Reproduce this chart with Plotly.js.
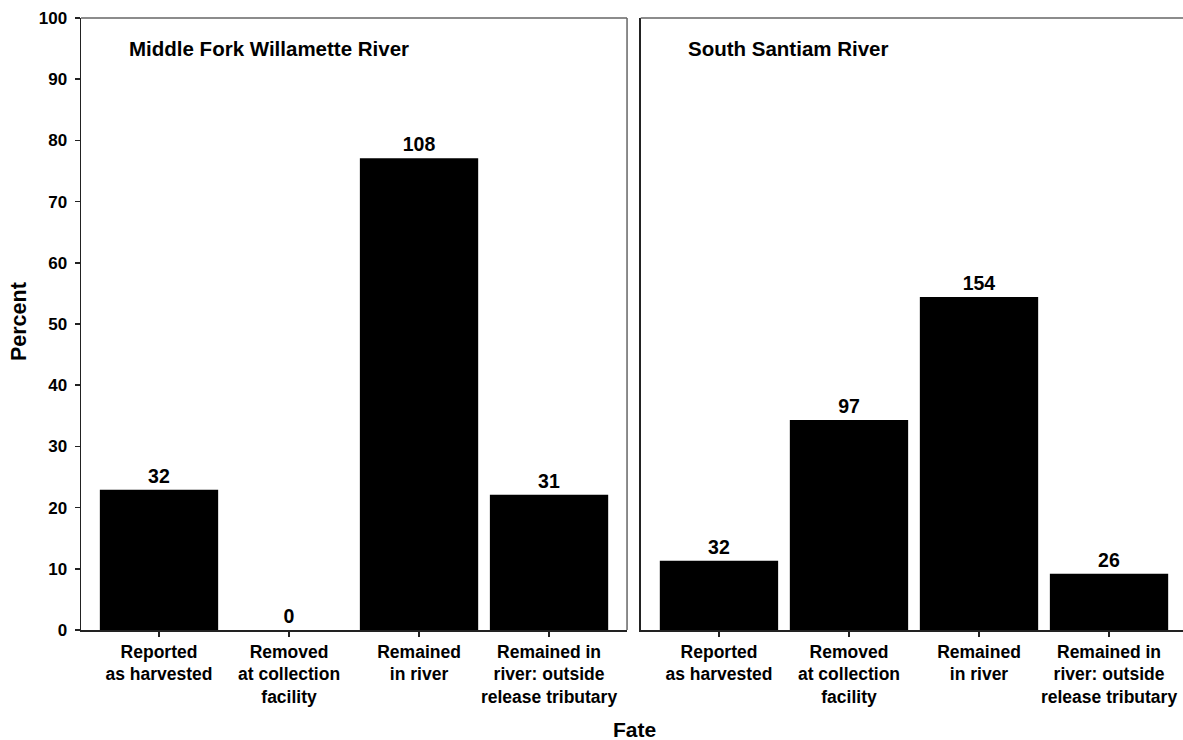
<!DOCTYPE html>
<html>
<head>
<meta charset="utf-8">
<script src="https://cdn.plot.ly/plotly-3.0.1.min.js"></script>
<style>html,body{margin:0;padding:0;background:#fff;}#chart{width:1183px;height:740px;}</style>
</head>
<body>
<div id="chart"></div>
<script>
const categories = [
  "Reported<br>as harvested",
  "Removed<br>at collection<br>facility",
  "Remained<br>in river",
  "Remained in<br>river: outside<br>release tributary"
];
const panelTitles = ["Middle Fork Willamette River", "South Santiam River"];
const mfwPercent = [22.9, 0, 77.1, 22.1];
const mfwCounts = [32, 0, 108, 31];
const ssPercent = [11.3, 34.3, 54.4, 9.2];
const ssCounts = [32, 97, 154, 26];
const yTicks = [0, 10, 20, 30, 40, 50, 60, 70, 80, 90, 100];
const xTitle = "Fate";
const yTitle = "Percent";

const FONT = "Liberation Sans, Arial, Helvetica, sans-serif";
const barCommon = {
  type: "bar",
  marker: {color: "#000", line: {width: 0}},
  width: 0.91,
  textposition: "outside",
  textfont: {family: FONT, size: 19.5, color: "#000", weight: 700},
  cliponaxis: false,
  hoverinfo: "skip",
  showlegend: false
};
const traces = [
  Object.assign({}, barCommon, {x: categories, y: mfwPercent, text: mfwCounts.map(String), xaxis: "x", yaxis: "y"}),
  Object.assign({}, barCommon, {x: categories, y: ssPercent, text: ssCounts.map(String), xaxis: "x2", yaxis: "y2"})
];

const xCommon = {
  type: "category",
  showline: true, linecolor: "#222", linewidth: 1.5,
  ticks: "outside", ticklen: 5, tickwidth: 1.5, tickcolor: "#222",
  tickfont: {family: FONT, size: 17.5, color: "#000", weight: 700},
  showgrid: false, zeroline: false, fixedrange: true
};
const layout = {
  width: 1183, height: 740,
  margin: {l: 81, r: 0, t: 18, b: 110},
  paper_bgcolor: "#fff", plot_bgcolor: "#fff",
  font: {family: FONT, color: "#000"},
  xaxis: Object.assign({}, xCommon, {domain: [0, 0.4955], range: [-0.6, 3.6], anchor: "y"}),
  xaxis2: Object.assign({}, xCommon, {domain: [0.5079, 1], range: [-0.602, 3.569], anchor: "y2"}),
  yaxis: {
    range: [0, 100], tickvals: yTicks, ticktext: yTicks.map(String),
    showline: true, linecolor: "#222", linewidth: 1.5,
    ticks: "outside", ticklen: 5, tickwidth: 1.5, tickcolor: "#222",
    ticklabelstandoff: 4,
    tickfont: {family: FONT, size: 17, color: "#000", weight: 700},
    showgrid: false, zeroline: false, fixedrange: true
  },
  yaxis2: {
    range: [0, 100], anchor: "x2",
    showline: true, linecolor: "#222", linewidth: 1.5,
    ticks: "", showticklabels: false, showgrid: false, zeroline: false, fixedrange: true
  },
  shapes: [
    {type: "line", xref: "x domain", yref: "y domain", x0: 0, x1: 1, y0: 1, y1: 1, line: {color: "#666", width: 1.5}},
    {type: "line", xref: "x domain", yref: "y domain", x0: 1, x1: 1, y0: 0, y1: 1, line: {color: "#666", width: 1.5}},
    {type: "line", xref: "x2 domain", yref: "y2 domain", x0: 0, x1: 1, y0: 1, y1: 1, line: {color: "#666", width: 1.5}}
  ],
  annotations: [
    {text: panelTitles[0], xref: "x domain", yref: "y domain", x: 0.0842, y: 0.950, xanchor: "left", yanchor: "middle",
     showarrow: false, font: {family: FONT, size: 20.5, color: "#000", weight: 700}},
    {text: panelTitles[1], xref: "x2 domain", yref: "y2 domain", x: 0.0835, y: 0.950, xanchor: "left", yanchor: "middle",
     showarrow: false, font: {family: FONT, size: 20.5, color: "#000", weight: 700}},
    {text: xTitle, xref: "paper", yref: "paper", x: 0.5027, y: -0.1618, xanchor: "center", yanchor: "middle",
     showarrow: false, font: {family: FONT, size: 21, color: "#000", weight: 700}},
    {text: yTitle, xref: "paper", yref: "paper", x: -0.0567, y: 0.504, xanchor: "center", yanchor: "middle",
     textangle: -90, showarrow: false, font: {family: FONT, size: 21.5, color: "#000", weight: 700}}
  ]
};
Plotly.newPlot("chart", traces, layout, {displayModeBar: false, staticPlot: true});
</script>
</body>
</html>
